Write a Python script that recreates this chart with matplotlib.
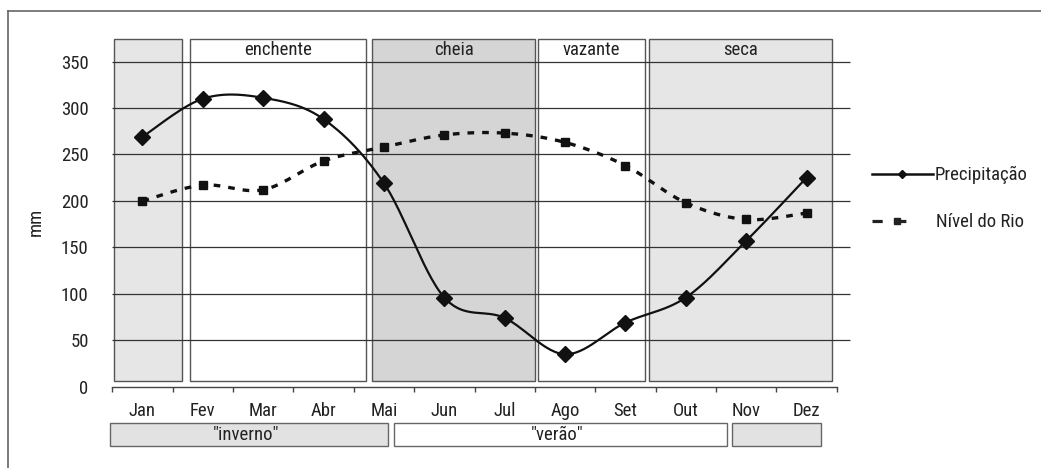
import numpy as np
import matplotlib
matplotlib.use("Agg")
import matplotlib.pyplot as plt
from matplotlib.patches import Rectangle
from matplotlib.lines import Line2D
from matplotlib.transforms import blended_transform_factory
from matplotlib import font_manager

# ---------------- data ----------------
months = ["Jan", "Fev", "Mar", "Abr", "Mai", "Jun", "Jul", "Ago", "Set", "Out", "Nov", "Dez"]
precipitacao = [269, 310, 311, 288, 219, 96, 74, 35, 69, 96, 157, 225]
nivel_rio = [200, 217, 212, 243, 258, 271, 273, 263, 238, 198, 180, 187]
y_ticks = [0, 50, 100, 150, 200, 250, 300, 350]

# seasons: (label, start, end, fill)  in month-index units
season_labels = ["", "enchente", "cheia", "vazante", "seca"]
season_start = [-0.48, 0.79, 3.80, 6.55, 8.39]
season_end = [0.66, 3.71, 6.51, 8.32, 11.43]
season_fill = ["#e6e6e6", "#ffffff", "#d5d5d5", "#ffffff", "#e6e6e6"]

climate_labels = ['"inverno"', '"verão"', ""]
climate_start = [-0.54, 4.16, 9.76]
climate_end = [4.07, 9.69, 11.24]
climate_fill = ["#e2e2e2", "#ffffff", "#e2e2e2"]

# ---------------- fonts ----------------
avail = {f.name for f in font_manager.fontManager.ttflist}
cond = [f for f in font_manager.fontManager.ttflist
        if f.name == "DejaVu Sans" and str(f.stretch) in ("condensed", "semi-condensed", "575", "587")]
narrow = [f for f in ["Liberation Sans Narrow", "Roboto Condensed", "Open Sans Condensed"] if f in avail]
if narrow:
    plt.rcParams["font.family"] = [narrow[0], "DejaVu Sans"]
    FS = 13.5
else:
    plt.rcParams["font.family"] = ["DejaVu Sans"]
    plt.rcParams["font.stretch"] = "condensed"
    FS = 12.5
TXT = "#222222"


def catmull_rom(xs, ys, n=30):
    xs = np.asarray(xs, float)
    ys = np.asarray(ys, float)
    P = np.column_stack([xs, ys])
    P = np.vstack([P[0], P, P[-1]])
    out = []
    t = np.linspace(0, 1, n)
    for i in range(1, len(P) - 2):
        p0, p1, p2, p3 = P[i - 1], P[i], P[i + 1], P[i + 2]
        tt = t[:, None]
        seg = 0.5 * ((2 * p1) + (-p0 + p2) * tt + (2 * p0 - 5 * p1 + 4 * p2 - p3) * tt ** 2
                     + (-p0 + 3 * p1 - 3 * p2 + p3) * tt ** 3)
        out.append(seg if i == 1 else seg[1:])
    out = np.vstack(out)
    return out[:, 0], out[:, 1]


W, H = 1041, 468
fig = plt.figure(figsize=(W / 100, H / 100), dpi=100)
fig.patch.set_facecolor("white")

ax_left, ax_right = 112.3, 836.7
ax_bottom, ax_top = 386.7, 39.0
ax = fig.add_axes([ax_left / W, 1 - ax_bottom / H, (ax_right - ax_left) / W, (ax_bottom - ax_top) / H])
ax.set_xlim(-0.5, 11.5)
ax.set_ylim(0, 374.3)
ax.patch.set_alpha(0)

for s in ["left", "right", "top"]:
    ax.spines[s].set_visible(False)
ax.spines["bottom"].set_color("#444444")
ax.spines["bottom"].set_linewidth(1.0)

x = np.arange(len(months))

# major ticks at month boundaries, labels at centers (minor)
ax.set_xticks(np.arange(-0.5, 12, 1.0))
ax.set_xticklabels([])
ax.tick_params(axis="x", which="major", direction="out", length=3.5, width=1.0, color="#444444")
ax.set_xticks(x, minor=True)
ax.set_xticklabels(months, minor=True, fontsize=FS, color=TXT)
ax.tick_params(axis="x", which="minor", length=0, pad=11)

ax.set_yticks(y_ticks)
ax.set_yticklabels([str(v) for v in y_ticks], fontsize=FS, color=TXT)
ax.tick_params(axis="y", length=0, pad=17)

# season boxes
for lab, a, b, c in zip(season_labels, season_start, season_end, season_fill):
    ax.add_patch(Rectangle((a, 6.0), b - a, 374.3 - 6.0, facecolor=c, edgecolor="#555555",
                           linewidth=1.0, zorder=1, clip_on=False))
    if lab:
        ax.text((a + b) / 2, 362, lab, ha="center", va="center", fontsize=FS, color=TXT, zorder=5)

# gridlines (extend beyond last tick)
x_grid_end = (850 - ax_left) / ((ax_right - ax_left) / 12) - 0.5
for v in y_ticks[1:]:
    ax.plot([-0.5, x_grid_end], [v, v], color="#333333", lw=0.9, zorder=2, clip_on=False,
            solid_capstyle="butt")

# series
px, py = catmull_rom(x, precipitacao)
ax.plot(px, py, color="#111111", lw=1.6, zorder=4, clip_on=False)
ax.plot(x, precipitacao, linestyle="none", marker="D", ms=7.8, color="#111111", zorder=5, clip_on=False)

nx, ny = catmull_rom(x, nivel_rio)
ax.plot(nx, ny, color="#111111", lw=2.4, zorder=4, clip_on=False, dashes=(2.0, 2.4),
        dash_capstyle="butt")
ax.plot(x, nivel_rio, linestyle="none", marker="s", ms=5.2, color="#111111", zorder=5, clip_on=False)

# bottom climate bars
tr = blended_transform_factory(ax.transData, ax.transAxes)
axh = ax_bottom - ax_top
yb0 = (ax_bottom - 445.7) / axh
yb1 = (ax_bottom - 423.3) / axh
for lab, a, b, c in zip(climate_labels, climate_start, climate_end, climate_fill):
    ax.add_patch(Rectangle((a, yb0), b - a, yb1 - yb0, transform=tr, facecolor=c,
                           edgecolor="#666666", linewidth=1.0, clip_on=False, zorder=1))
    if lab:
        ax.text((a + b) / 2 - 0.05, (yb0 + yb1) / 2, lab, transform=tr, ha="center", va="center",
                fontsize=FS, color=TXT)

# y label
fig.text(36 / W, 1 - 222 / H, "mm", rotation=90, ha="center", va="center", fontsize=FS, color=TXT)


def fx(px_):
    return px_ / W


def fy(py_):
    return 1 - py_ / H


# legend (manual)
fig.add_artist(Line2D([fx(872), fx(933)], [fy(174.3), fy(174.3)], color="#111111", lw=1.8))
fig.add_artist(Line2D([fx(902)], [fy(174.3)], marker="D", ms=4, color="#111111", linestyle="none"))
fig.text(fx(935), fy(175), "Precipitação", ha="left", va="center", fontsize=FS, color=TXT)
fig.add_artist(Line2D([fx(872), fx(916)], [fy(221), fy(221)], color="#222222", lw=2.3,
                      dashes=(3.2, 4.2), dash_capstyle="butt"))
fig.add_artist(Line2D([fx(897)], [fy(221)], marker="s", ms=4.5, color="#222222", linestyle="none"))
fig.text(fx(936), fy(222), "Nível do Rio", ha="left", va="center", fontsize=FS, color=TXT)

# outer frame (cut on right and bottom)
fig.add_artist(Line2D([fx(8.3), fx(1041)], [fy(10.5), fy(10.5)], color="#666666", lw=1.2))
fig.add_artist(Line2D([fx(8.3), fx(8.3)], [fy(10.5), fy(468)], color="#666666", lw=1.2))

fig.savefig("out.png", dpi=100, facecolor="white")
